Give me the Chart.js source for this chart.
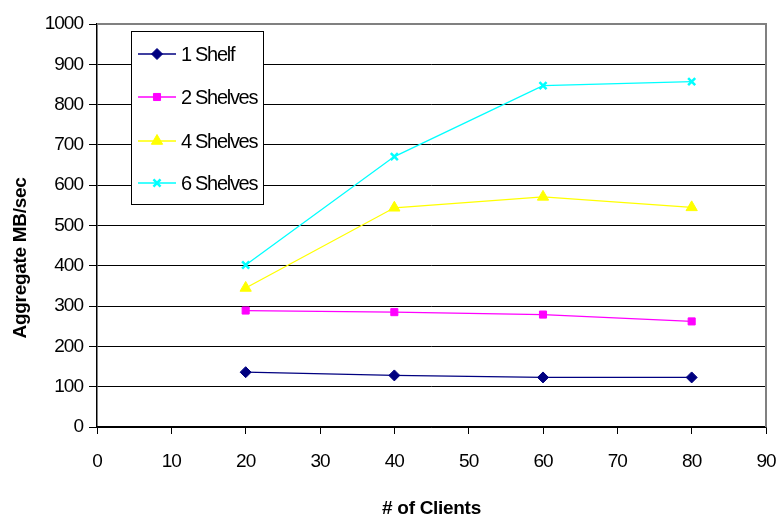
<!DOCTYPE html>
<html>
<head>
<meta charset="utf-8">
<script src="https://cdn.jsdelivr.net/npm/chart.js@4.4.1/dist/chart.umd.min.js"></script>
<style>
  html, body { margin: 0; padding: 0; background: #fff; }
  #chart { display: block; }
</style>
</head>
<body>
<canvas id="chart" width="778" height="521"></canvas>
<script>
// data
const clients = [20, 40, 60, 80];
const seriesNames = ["1 Shelf", "2 Shelves", "4 Shelves", "6 Shelves"];
const oneShelf = [136, 128, 123, 123];
const twoShelves = [289, 285, 279, 262];
const fourShelves = [345, 544, 571, 545];
const sixShelves = [402, 671, 847, 857];
const xTicks = [0, 10, 20, 30, 40, 50, 60, 70, 80, 90];
const yTicks = [0, 100, 200, 300, 400, 500, 600, 700, 800, 900, 1000];

// no Arial Narrow here, so Liberation Sans with tighter spacing
const FONT = '"Liberation Sans", Arial, sans-serif';

const styles = [
  { color: "#000080", pointStyle: "rectRot", radius: 5.5 },
  { color: "#FF00FF", pointStyle: "rect", radius: 5 },
  { color: "#FFFF00", pointStyle: "triangle", radius: 6.5 },
  { color: "#00FFFF", pointStyle: "crossRot", radius: 5 }
];

const allValues = [oneShelf, twoShelves, fourShelves, sixShelves];

const datasets = allValues.map((vals, i) => ({
  label: seriesNames[i],
  data: clients.map((c, j) => ({ x: c, y: vals[j] })),
  borderColor: styles[i].color,
  backgroundColor: styles[i].color,
  borderWidth: 1.3,
  pointStyle: styles[i].pointStyle,
  pointRadius: styles[i].radius,
  pointBorderWidth: styles[i].pointStyle === "crossRot" ? 2.5 : 1,
  pointBorderColor: styles[i].color,
  pointBackgroundColor: styles[i].color,
  tension: 0
}));

// 1. Narrow-looking text + plot frame, axis titles and the boxed legend
const extrasPlugin = {
  id: "extras",
  beforeDraw(chart) {
    chart.ctx.letterSpacing = "-1px";
  },
  afterDraw(chart) {
    const ctx = chart.ctx;
    const a = chart.chartArea;
    ctx.save();

    // gray top / right frame of the plot area
    ctx.strokeStyle = "#808080";
    ctx.lineWidth = 2;
    ctx.beginPath();
    ctx.moveTo(a.left, a.top);
    ctx.lineTo(a.right, a.top);
    ctx.lineTo(a.right, a.bottom);
    ctx.stroke();

    // axis titles
    ctx.letterSpacing = "-0.3px";
    ctx.fillStyle = "#000";
    ctx.font = "bold 19px " + FONT;
    ctx.textAlign = "center";
    ctx.textBaseline = "middle";
    ctx.fillText("# of Clients", (a.left + a.right) / 2, 509);
    ctx.save();
    ctx.translate(21, 258);
    ctx.rotate(-Math.PI / 2);
    ctx.fillText("Aggregate MB/sec", 0, 0);
    ctx.restore();

    // legend box
    const box = { x: 131.5, y: 31.5, w: 132, h: 173 };
    ctx.fillStyle = "#fff";
    ctx.fillRect(box.x, box.y, box.w, box.h);
    ctx.strokeStyle = "#000";
    ctx.lineWidth = 1;
    ctx.strokeRect(box.x, box.y, box.w, box.h);

    const rows = [54, 97, 141, 183];
    ctx.font = "20px " + FONT;
    ctx.letterSpacing = "-1.3px";
    ctx.textAlign = "left";
    chart.data.datasets.forEach((ds, i) => {
      const y = rows[i];
      ctx.strokeStyle = ds.borderColor;
      ctx.lineWidth = 1.3;
      ctx.beginPath();
      ctx.moveTo(138, y);
      ctx.lineTo(176, y);
      ctx.stroke();
      ctx.fillStyle = ds.pointBackgroundColor;
      ctx.strokeStyle = ds.pointBorderColor;
      ctx.lineWidth = ds.pointBorderWidth;
      Chart.helpers.drawPoint(ctx, {
        pointStyle: ds.pointStyle,
        radius: ds.pointRadius,
        rotation: 0,
        borderWidth: ds.pointBorderWidth
      }, 157, y);
      ctx.fillStyle = "#000";
      ctx.fillText(ds.label, 181, y + 1);
    });

    ctx.restore();
  }
};

new Chart(document.getElementById("chart"), {
  type: "line",
  data: { datasets: datasets },
  options: {
    responsive: false,
    animation: false,
    layout: { padding: { top: 24, right: 12, left: 0, bottom: 0 } },
    plugins: {
      legend: { display: false },
      tooltip: { enabled: false }
    },
    scales: {
      x: {
        type: "linear",
        min: 0,
        max: 90,
        afterBuildTicks: (scale) => { scale.ticks = xTicks.map(v => ({ value: v })); },
        afterFit: (scale) => {
          scale.height = 94;
          scale.paddingLeft = 0;
          scale.paddingRight = 0;
        },
        grid: { drawOnChartArea: false, drawTicks: true, tickLength: 7, color: "#000" },
        border: { color: "#000", width: 1.5 },
        ticks: {
          color: "#000",
          padding: 16,
          maxRotation: 0,
          autoSkip: false,
          callback: (v) => String(v),
          font: { family: FONT, size: 19 }
        }
      },
      y: {
        min: 0,
        max: 1000,
        afterBuildTicks: (scale) => { scale.ticks = yTicks.map(v => ({ value: v })); },
        afterFit: (scale) => {
          scale.width = 97;
          scale.paddingTop = 0;
          scale.paddingBottom = 0;
        },
        grid: { color: "#000", lineWidth: 1, tickLength: 8 },
        border: { color: "#000", width: 1.5 },
        ticks: {
          color: "#000",
          padding: 6,
          autoSkip: false,
          callback: (v) => String(v),
          font: { family: FONT, size: 19 }
        }
      }
    }
  },
  plugins: [extrasPlugin]
});
</script>
</body>
</html>
